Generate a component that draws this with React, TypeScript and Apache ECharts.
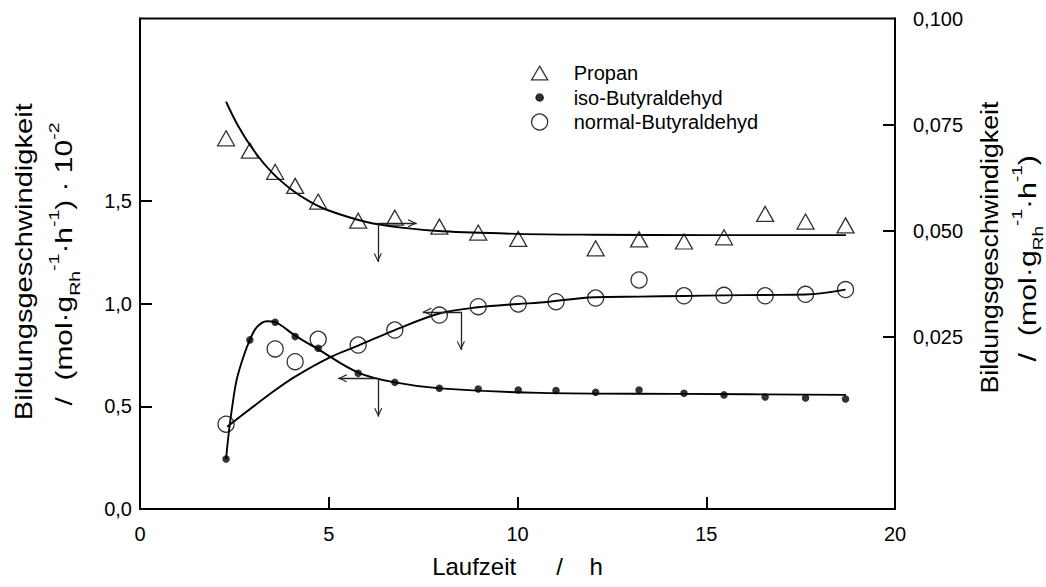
import React, { useEffect, useRef } from "react";
import * as echarts from "echarts";

// Laufzeit in h, Bildungsgeschwindigkeit der Messpunkte
const zeitPropan = [2.28, 2.91, 3.58, 4.11, 4.72, 5.78, 6.75, 7.93, 8.96, 10.02, 12.07, 13.22, 14.41, 15.47, 16.56, 17.63, 18.69];
const propan = [0.0718, 0.0689, 0.0639, 0.0606, 0.0569, 0.0524, 0.0531, 0.051, 0.0496, 0.0481, 0.0459, 0.048, 0.0475, 0.0485, 0.054, 0.0522, 0.0513];

const zeitIso = [2.28, 2.91, 3.58, 4.11, 4.72, 5.78, 6.75, 7.93, 8.96, 10.02, 11.02, 12.07, 13.22, 14.41, 15.47, 16.56, 17.63, 18.69];
const isoButyraldehyd = [0.244, 0.824, 0.91, 0.84, 0.783, 0.661, 0.617, 0.588, 0.585, 0.58, 0.577, 0.569, 0.58, 0.564, 0.556, 0.546, 0.541, 0.536];

const zeitNormal = [2.28, 3.58, 4.11, 4.72, 5.78, 6.75, 7.93, 8.96, 10.02, 11.02, 12.07, 13.22, 14.41, 15.47, 16.56, 17.63, 18.69];
const normalButyraldehyd = [0.413, 0.78, 0.718, 0.827, 0.799, 0.872, 0.945, 0.986, 0.999, 1.01, 1.028, 1.116, 1.039, 1.041, 1.039, 1.046, 1.069];

// Angepasste Kurven
const zeitPropanFit = [2.28, 2.6, 3.0, 3.5, 4.0, 4.5, 5.0, 6.0, 7.0, 8.0, 10.0, 12.0, 15.0, 18.7];
const propanFit = [0.0804, 0.0747, 0.0691, 0.0637, 0.0598, 0.0569, 0.0548, 0.0521, 0.0507, 0.0499, 0.0493, 0.0491, 0.049, 0.049];

const zeitIsoFit = [2.28, 2.34, 2.43, 2.56, 2.74, 2.91, 3.09, 3.36, 3.58, 4.11, 4.72, 5.78, 6.75, 7.95, 10.6, 14.4, 18.7];
const isoFit = [0.244, 0.352, 0.482, 0.629, 0.742, 0.824, 0.885, 0.915, 0.91, 0.845, 0.778, 0.665, 0.617, 0.588, 0.566, 0.561, 0.556];

const zeitNormalFit = [2.31, 3.53, 4.11, 5.03, 5.78, 6.75, 7.95, 8.96, 10.02, 10.6, 12.05, 13.22, 14.41, 15.47, 16.56, 17.63, 18.69];
const normalFit = [0.401, 0.572, 0.645, 0.739, 0.796, 0.872, 0.954, 0.983, 0.999, 1.006, 1.032, 1.035, 1.038, 1.041, 1.043, 1.045, 1.069];

// Pfeile: Ausgangspunkt auf der Kurve, Ende nach unten und zur jeweiligen Achse
const pfeilPropan = { zeit: 6.3, wert: 0.0518, wertEnde: 0.0427, zeitEnde: 7.33 };
const pfeilIso = { zeit: 6.31, wert: 0.637, wertEnde: 0.45, zeitEnde: 5.25 };
const pfeilNormal = { zeit: 8.5, wert: 0.961, wertEnde: 0.775, zeitEnde: 7.49 };

// Achsen
const xTicks = { min: 0, max: 20, interval: 5 };
const linkeLabels = [0, 0.5, 1.0, 1.5];
const linkeTicks = [0.5, 1.0, 1.5];
const rechteLabels = [0.025, 0.05, 0.075, 0.1];
const rechteTicks = [0.025, 0.05, 0.075];

const FONT = '"Liberation Sans", Arial, Helvetica, sans-serif';
const ARROW = "path://M5,0 L10,9 L8.9,9.9 L5,2.6 L1.1,9.9 L0,9 Z M5,-9.9";
const ICON_DREIECK = "path://M0,0 M17,16 M8.5,1.2 L16.6,14.8 L0.4,14.8 Z";
const ICON_PUNKT = "path://M0,0 M16,16 M8,4.4 A3.6,3.6 0 1,1 7.99,4.4 Z";

const zip = (xs: number[], ys: number[]) => xs.map((x, i) => [x, ys[i]]);

const pfeil = (p: { zeit: number; wert: number; wertEnde: number; zeitEnde: number }) => ({
  silent: true,
  symbol: ["none", ARROW],
  symbolSize: [8, 18],
  label: { show: false },
  emphasis: { disabled: true },
  lineStyle: { color: "#222", width: 1.3, type: "solid" },
  data: [
    [{ coord: [p.zeit, p.wert] }, { coord: [p.zeit, p.wertEnde] }],
    [{ coord: [p.zeit, p.wert] }, { coord: [p.zeitEnde, p.wert] }],
  ],
});

const achsenLinie = { show: true, onZero: false, lineStyle: { color: "#000", width: 2 } };
const achsenTick = { show: true, inside: true, length: 12, lineStyle: { color: "#000", width: 2 } };

const kurve = (name: string, daten: number[][], achse: number, pfeilDef: any) => ({
  name,
  type: "line",
  yAxisIndex: achse,
  data: daten,
  symbol: "none",
  showSymbol: false,
  smooth: 0.35,
  lineStyle: { color: "#000", width: 1.9 },
  z: 2,
  markLine: pfeil(pfeilDef),
});

const option: any = {
  animation: false,
  backgroundColor: "#fff",
  grid: { left: 140, right: 151, top: 18.5, bottom: 78, show: true, borderColor: "#000", borderWidth: 2 },
  legend: {
    orient: "vertical",
    left: 530.5,
    top: 63,
    padding: 0,
    itemWidth: 58,
    itemHeight: 16,
    itemGap: 4.5,
    selectedMode: false,
    textStyle: { color: "#000", fontSize: 20, fontFamily: FONT },
    itemStyle: { borderWidth: 1.3, borderColor: "#000" },
    data: [
      { name: "Propan", icon: ICON_DREIECK },
      { name: "iso-Butyraldehyd", icon: ICON_PUNKT },
      { name: "normal-Butyraldehyd", icon: "circle" },
    ],
  },
  xAxis: {
    type: "value",
    min: xTicks.min,
    max: xTicks.max,
    interval: xTicks.interval,
    axisLine: achsenLinie,
    axisTick: achsenTick,
    splitLine: { show: false },
    axisLabel: { color: "#000", fontSize: 20, fontFamily: FONT, margin: 15 },
    name: "Laufzeit      /    h",
    nameLocation: "middle",
    nameGap: 45,
    nameTextStyle: { color: "#000", fontSize: 24, fontFamily: FONT },
  },
  yAxis: [
    {
      type: "value",
      position: "left",
      min: 0,
      max: 2.39,
      axisLine: achsenLinie,
      axisTick: { ...achsenTick, customValues: linkeTicks },
      splitLine: { show: false },
      axisLabel: {
        customValues: linkeLabels,
        color: "#000",
        fontSize: 20,
        fontFamily: FONT,
        margin: 8,
        formatter: (v: number) => v.toFixed(1).replace(".", ","),
      },
    },
    {
      type: "value",
      position: "right",
      min: -0.01547,
      max: 0.1,
      axisLine: achsenLinie,
      axisTick: { ...achsenTick, customValues: rechteTicks },
      splitLine: { show: false },
      axisLabel: {
        customValues: rechteLabels,
        color: "#000",
        fontSize: 20,
        fontFamily: FONT,
        margin: 18,
        formatter: (v: number) => v.toFixed(3).replace(".", ","),
      },
    },
  ],
  series: [
    kurve("Propan Kurve", zip(zeitPropanFit, propanFit), 1, pfeilPropan),
    kurve("iso Kurve", zip(zeitIsoFit, isoFit), 0, pfeilIso),
    kurve("normal Kurve", zip(zeitNormalFit, normalFit), 0, pfeilNormal),
    {
      name: "Propan",
      type: "scatter",
      yAxisIndex: 1,
      data: zip(zeitPropan, propan),
      symbol: "triangle",
      symbolSize: [17, 15],
      itemStyle: { color: "rgba(0,0,0,0)", borderColor: "#000", borderWidth: 1.3 },
      z: 3,
    },
    {
      name: "iso-Butyraldehyd",
      type: "scatter",
      yAxisIndex: 0,
      data: zip(zeitIso, isoButyraldehyd),
      symbol: "circle",
      symbolSize: 7.5,
      itemStyle: { color: "#000", borderColor: "#000", borderWidth: 0 },
      z: 3,
    },
    {
      name: "normal-Butyraldehyd",
      type: "scatter",
      yAxisIndex: 0,
      data: zip(zeitNormal, normalButyraldehyd),
      symbol: "circle",
      symbolSize: 16,
      itemStyle: { color: "rgba(0,0,0,0)", borderColor: "#000", borderWidth: 1.3 },
      z: 3,
    },
  ],
  graphic: [
    {
      type: "text",
      x: 24,
      y: 261.7,
      rotation: Math.PI / 2,
      scaleX: 1.265,
      style: { text: "Bildungsgeschwindigkeit", fontSize: 23, fontFamily: FONT, fill: "#000", align: "center", verticalAlign: "middle" },
    },
    {
      type: "text",
      x: 64,
      y: 264,
      rotation: Math.PI / 2,
      scaleX: 1.3,
      style: {
        text: "/  (mol·g{sub|Rh}{sup|-1}·h{sup|-1}) · 10{sup|-2}",
        fontSize: 23,
        lineHeight: 36,
        fontFamily: FONT,
        fill: "#000",
        align: "center",
        verticalAlign: "middle",
        rich: {
          sub: { fontSize: 15, lineHeight: 15, verticalAlign: "bottom", fontFamily: FONT, fill: "#000" },
          sup: { fontSize: 15, lineHeight: 15, verticalAlign: "top", fontFamily: FONT, fill: "#000" },
        },
      },
    },
    {
      type: "text",
      x: 990,
      y: 247.5,
      rotation: Math.PI / 2,
      scaleX: 1.117,
      style: { text: "Bildungsgeschwindigkeit", fontSize: 24, fontFamily: FONT, fill: "#000", align: "center", verticalAlign: "middle" },
    },
    {
      type: "text",
      x: 1028,
      y: 258.3,
      rotation: Math.PI / 2,
      scaleX: 1.265,
      style: {
        text: "/  (mol·g{sub|Rh}{sup|-1}·h{sup|-1})",
        fontSize: 24,
        lineHeight: 36,
        fontFamily: FONT,
        fill: "#000",
        align: "center",
        verticalAlign: "middle",
        rich: {
          sub: { fontSize: 15, lineHeight: 15, verticalAlign: "bottom", fontFamily: FONT, fill: "#000" },
          sup: { fontSize: 15, lineHeight: 15, verticalAlign: "top", fontFamily: FONT, fill: "#000" },
        },
      },
    },
  ],
};

export default function App() {
  const ref = useRef<HTMLDivElement>(null);
  useEffect(() => {
    document.body.style.margin = "0";
    const chart = echarts.init(ref.current!, null, { renderer: "svg" });
    chart.setOption(option);
    return () => chart.dispose();
  }, []);
  return <div ref={ref} style={{ width: 1046, height: 587 }} />;
}
